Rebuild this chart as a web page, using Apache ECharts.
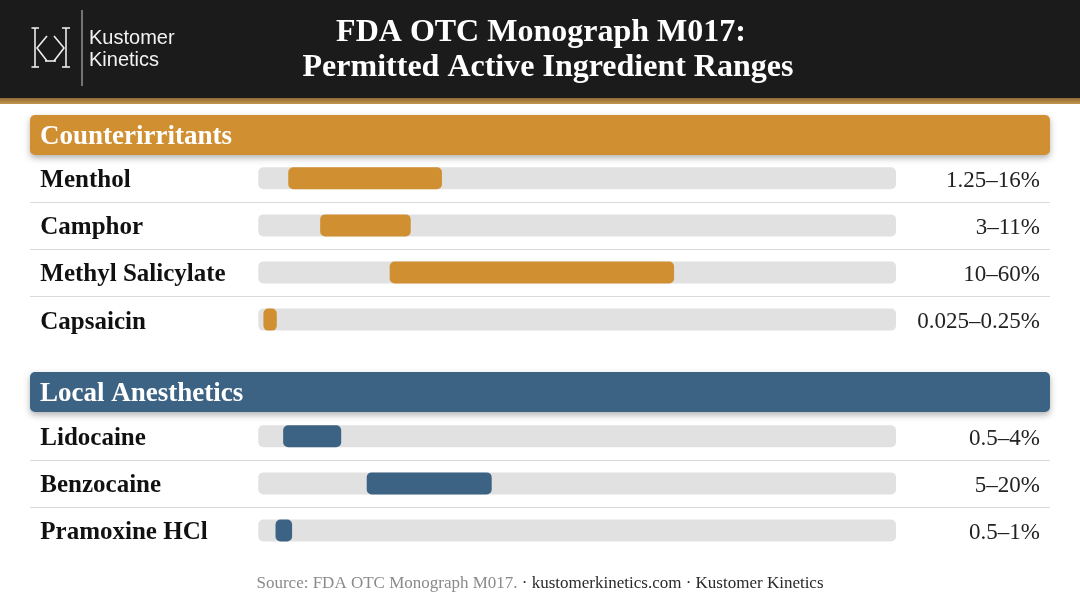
<!DOCTYPE html>
<html>
<head>
<meta charset="utf-8">
<script src="https://cdn.jsdelivr.net/npm/echarts@6/dist/echarts.min.js"></script>
<style>
html,body{margin:0;padding:0;background:#fff;}
#chart{width:1080px;height:603px;}
</style>
</head>
<body>
<div id="chart"></div>
<script>
// ---- data ----
const counterNames = ['Menthol', 'Camphor', 'Methyl Salicylate', 'Capsaicin'];
const counterLabels = ['1.25–16%', '3–11%', '10–60%', '0.025–0.25%'];
const counterStart = [4.7, 9.7, 20.6, 0.8];
const counterEnd = [28.8, 23.9, 65.2, 2.9];

const anestheticNames = ['Lidocaine', 'Benzocaine', 'Pramoxine HCl'];
const anestheticLabels = ['0.5–4%', '5–20%', '0.5–1%'];
const anestheticStart = [3.9, 17.0, 2.7];
const anestheticEnd = [13.0, 36.6, 5.3];

const trackMin = 0;
const trackMax = 100;

const sectionTitles = ['Counterirritants', 'Local Anesthetics'];
const chartTitle = ['FDA OTC Monograph M017:', 'Permitted Active Ingredient Ranges'];
const footerSource = 'Source: FDA OTC Monograph M017.';
const footerRest = ' · kustomerkinetics.com · Kustomer Kinetics';

// ---- style ----
const SERIF = '"Liberation Serif", "DejaVu Serif", serif';
const SANS = '"Liberation Sans", Arial, sans-serif';
const ORANGE = '#D08F31';
const BLUE = '#3C6284';
const TRACK = '#E1E1E1';
const BAR_H = 22;

const chart = echarts.init(document.getElementById('chart'));

function rangeRenderer(color) {
  return function (params, api) {
    const idx = api.value(2);
    const s = api.coord([api.value(0), idx]);
    const e = api.coord([api.value(1), idx]);
    return {
      type: 'rect',
      shape: { x: s[0], y: s[1] - BAR_H / 2, width: e[0] - s[0], height: BAR_H, r: 5 },
      style: { fill: color }
    };
  };
}
function separatorRenderer(params, api) {
  const idx = api.value(0);
  const c = api.coord([trackMin, idx]);
  const band = api.size([0, 1])[1];
  const y = Math.round(c[1] + band / 2) + 0.5;
  return {
    type: 'line',
    shape: { x1: 30, y1: y, x2: 1050, y2: y },
    style: { stroke: '#DADADA', lineWidth: 1 }
  };
}

function makeAxes(gi, names, labels) {
  return [
    {
      gridIndex: gi, type: 'category', data: names, inverse: true, position: 'left',
      axisLine: { show: false }, axisTick: { show: false }, splitLine: { show: false },
      axisLabel: {
        align: 'left', margin: 218, formatter: '{n|{value}}',
        rich: { n: { fontFamily: SERIF, fontWeight: 'bold', fontSize: 25, color: '#111', padding: [5, 0, 0, 0] } }
      }
    },
    {
      gridIndex: gi, type: 'category', data: labels, inverse: true, position: 'right',
      axisLine: { show: false }, axisTick: { show: false }, splitLine: { show: false },
      axisLabel: {
        align: 'right', margin: 144, formatter: '{v|{value}}',
        rich: { v: { fontFamily: SERIF, fontSize: 23, color: '#222', padding: [5, 0, 0, 0] } }
      }
    }
  ];
}

function makeSeries(gi, names, starts, ends, color) {
  const yi = gi * 2;
  return [
    {
      type: 'custom', xAxisIndex: gi, yAxisIndex: yi, silent: true,
      renderItem: separatorRenderer, encode: { y: 0 },
      data: names.slice(0, -1).map((n, i) => [i])
    },
    {
      type: 'custom', xAxisIndex: gi, yAxisIndex: yi, silent: true,
      renderItem: rangeRenderer(TRACK), encode: { x: [0, 1], y: 2 },
      data: names.map((n, i) => [trackMin, trackMax, i])
    },
    {
      type: 'custom', xAxisIndex: gi, yAxisIndex: yi, silent: true,
      renderItem: rangeRenderer(color), encode: { x: [0, 1], y: 2 },
      data: starts.map((s, i) => [s, ends[i], i])
    }
  ];
}

const logoStroke = { stroke: '#EDEDED', lineWidth: 1.6 };
function ln(x1, y1, x2, y2) { return { type: 'line', shape: { x1, y1, x2, y2 }, style: logoStroke }; }

const option = {
  animation: false,
  backgroundColor: '#FFFFFF',
  grid: [
    { left: 258.3, right: 184, top: 154.75, height: 188.4 },
    { left: 258.3, right: 184, top: 412.75, height: 141.3 }
  ],
  xAxis: [
    { gridIndex: 0, type: 'value', min: trackMin, max: trackMax, show: false },
    { gridIndex: 1, type: 'value', min: trackMin, max: trackMax, show: false }
  ],
  yAxis: [].concat(makeAxes(0, counterNames, counterLabels), makeAxes(1, anestheticNames, anestheticLabels)),
  series: [].concat(
    makeSeries(0, counterNames, counterStart, counterEnd, ORANGE),
    makeSeries(1, anestheticNames, anestheticStart, anestheticEnd, BLUE)
  ),
  graphic: [
    // header band
    { type: 'rect', shape: { x: 0, y: 0, width: 1080, height: 99 }, style: { fill: '#1B1B1B' }, z: 0 },
    { type: 'rect', shape: { x: 0, y: 98, width: 1080, height: 6 },
      style: { fill: new echarts.graphic.LinearGradient(0, 0, 0, 1, [{ offset: 0, color: '#8E6A34' }, { offset: 1, color: '#C4974F' }]) }, z: 0 },
    // logo
    ln(35, 28, 35, 67), ln(31.5, 28, 39, 28), ln(31.5, 67, 39, 67),
    ln(66, 28, 66, 67), ln(62, 28, 70, 28), ln(62, 67, 70, 67),
    { type: 'polyline', shape: { points: [[47, 36], [37, 48], [47, 61]] }, style: { stroke: '#EDEDED', lineWidth: 1.6, fill: null } },
    { type: 'polyline', shape: { points: [[54, 36], [64, 48], [54, 61]] }, style: { stroke: '#EDEDED', lineWidth: 1.6, fill: null } },
    ln(45, 61, 56, 61),
    { type: 'line', shape: { x1: 82, y1: 10, x2: 82, y2: 86 }, style: { stroke: '#CFCFCF', lineWidth: 1 } },
    { type: 'text', x: 89, y: 38, style: { text: 'Kustomer', font: '20px ' + SANS, fill: '#F2F2F2', textVerticalAlign: 'middle' } },
    { type: 'text', x: 89, y: 60, style: { text: 'Kinetics', font: '20px ' + SANS, fill: '#F2F2F2', textVerticalAlign: 'middle' } },
    // title
    { type: 'text', x: 541, y: 33, style: { text: chartTitle[0], font: 'bold 32px ' + SERIF, fill: '#FFFFFF', textAlign: 'center', textVerticalAlign: 'middle' } },
    { type: 'text', x: 548, y: 68, style: { text: chartTitle[1], font: 'bold 32px ' + SERIF, fill: '#FFFFFF', textAlign: 'center', textVerticalAlign: 'middle' } },
    // section headers
    { type: 'rect', shape: { x: 30, y: 115, width: 1020, height: 40, r: 5 },
      style: { fill: ORANGE, shadowBlur: 6, shadowOffsetY: 3, shadowColor: 'rgba(0,0,0,0.3)' }, z: 5 },
    { type: 'text', x: 40, y: 137, style: { text: sectionTitles[0], font: 'bold 27px ' + SERIF, fill: '#FFFFFF', textVerticalAlign: 'middle' }, z: 6 },
    { type: 'rect', shape: { x: 30, y: 372, width: 1020, height: 40, r: 5 },
      style: { fill: BLUE, shadowBlur: 6, shadowOffsetY: 3, shadowColor: 'rgba(0,0,0,0.3)' }, z: 5 },
    { type: 'text', x: 40, y: 394, style: { text: sectionTitles[1], font: 'bold 27px ' + SERIF, fill: '#FFFFFF', textVerticalAlign: 'middle' }, z: 6 },
    // footer
    { type: 'text', x: 540, y: 584, style: {
        text: '{a|' + footerSource + '}{b|' + footerRest + '}',
        textAlign: 'center', textVerticalAlign: 'middle',
        rich: {
          a: { fontFamily: SERIF, fontSize: 17, fill: '#8A8A8A', color: '#8A8A8A' },
          b: { fontFamily: SERIF, fontSize: 17, fill: '#2A2A2A', color: '#2A2A2A' }
        }
      } }
  ]
};
chart.setOption(option);
</script>
</body>
</html>
